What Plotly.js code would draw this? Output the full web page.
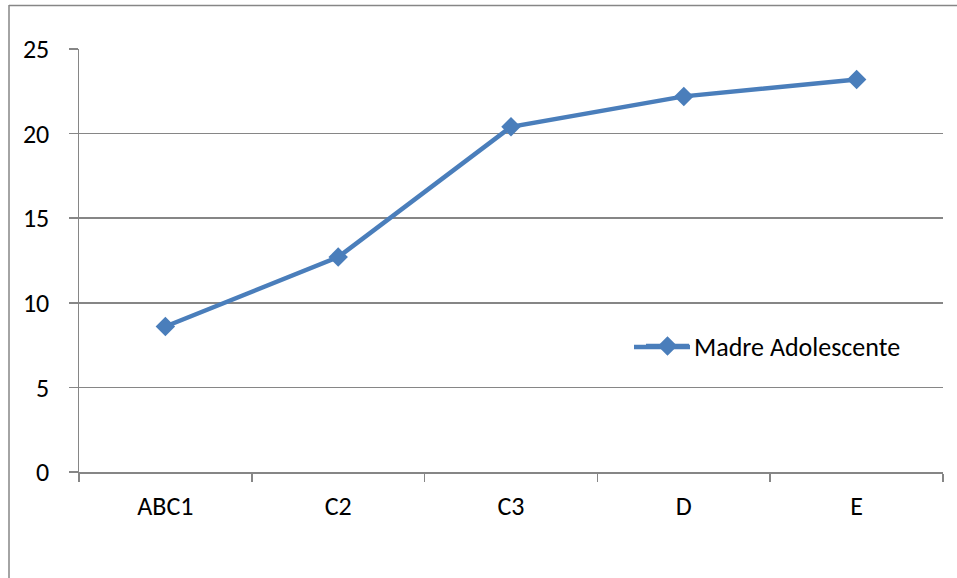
<!DOCTYPE html>
<html>
<head>
<meta charset="utf-8">
<script src="https://cdn.plot.ly/plotly-3.0.1.min.js"></script>
<style>html,body{margin:0;padding:0;background:#fff;}#chart{width:957px;height:578px;}</style>
</head>
<body>
<div id="chart"></div>
<script>
const categories = ["ABC1", "C2", "C3", "D", "E"];
const seriesName = "Madre Adolescente";
const values = [8.6, 12.7, 20.4, 22.2, 23.2];
const yTicks = [0, 5, 10, 15, 20, 25];

const L = 79, R = 14, T = 49, B = 106;
const W = 957, H = 578;
const pw = W - L - R, ph = H - T - B;
const px = x => (x - L) / pw;
const py = y => (H - B - y) / ph;
const lineColor = "#4a7ebb";

const trace = {
  x: categories,
  y: values,
  name: seriesName,
  type: "scatter",
  mode: "lines+markers",
  line: {color: lineColor, width: 4.5},
  marker: {symbol: "diamond", size: 15, color: lineColor},
  showlegend: true
};

const layout = {
  width: W, height: H,
  margin: {l: L, r: R, t: T, b: B},
  paper_bgcolor: "#ffffff",
  plot_bgcolor: "#ffffff",
  font: {family: "Carlito, 'Open Sans', 'Noto Sans', sans-serif", size: 26, color: "#000000"},
  xaxis: {
    type: "category",
    range: [-0.5, 4.5],
    tickson: "boundaries",
    ticks: "outside",
    ticklen: 8,
    tickwidth: 1.5,
    tickcolor: "#868686",
    showgrid: false,
    showline: true,
    linecolor: "#868686",
    linewidth: 1.5,
    ticklabelstandoff: 10,
    zeroline: false,
    fixedrange: true
  },
  yaxis: {
    range: [0, 25],
    tickvals: yTicks,
    ticks: "outside",
    ticklen: 9,
    tickwidth: 1.5,
    tickcolor: "#868686",
    showgrid: true,
    gridcolor: "#868686",
    gridwidth: 1.5,
    showline: true,
    linecolor: "#868686",
    linewidth: 1.5,
    zeroline: false,
    ticklabelstandoff: 14,
    fixedrange: true
  },
  legend: {
    x: px(641), y: py(346), xanchor: "left", yanchor: "middle",
    bgcolor: "rgba(0,0,0,0)",
    font: {size: 26},
    itemwidth: 43
  },
  shapes: [
    {type: "line", xref: "paper", yref: "paper", x0: px(9), x1: px(9), y0: py(5), y1: py(590), line: {color: "#868686", width: 1.5}},
    {type: "line", xref: "paper", yref: "paper", x0: px(9), x1: px(970), y0: py(5.5), y1: py(5.5), line: {color: "#868686", width: 1.5}},
    {type: "line", xref: "paper", yref: "paper", x0: 0, x1: 0, y0: 0, y1: py(480), line: {color: "#868686", width: 1.5}},
    {type: "line", xref: "paper", yref: "paper", x0: px(634), x1: px(690), y0: py(347), y1: py(347), line: {color: lineColor, width: 4.5}}
  ]
};

Plotly.newPlot("chart", [trace], layout, {displayModeBar: false, staticPlot: true});
</script>
</body>
</html>
